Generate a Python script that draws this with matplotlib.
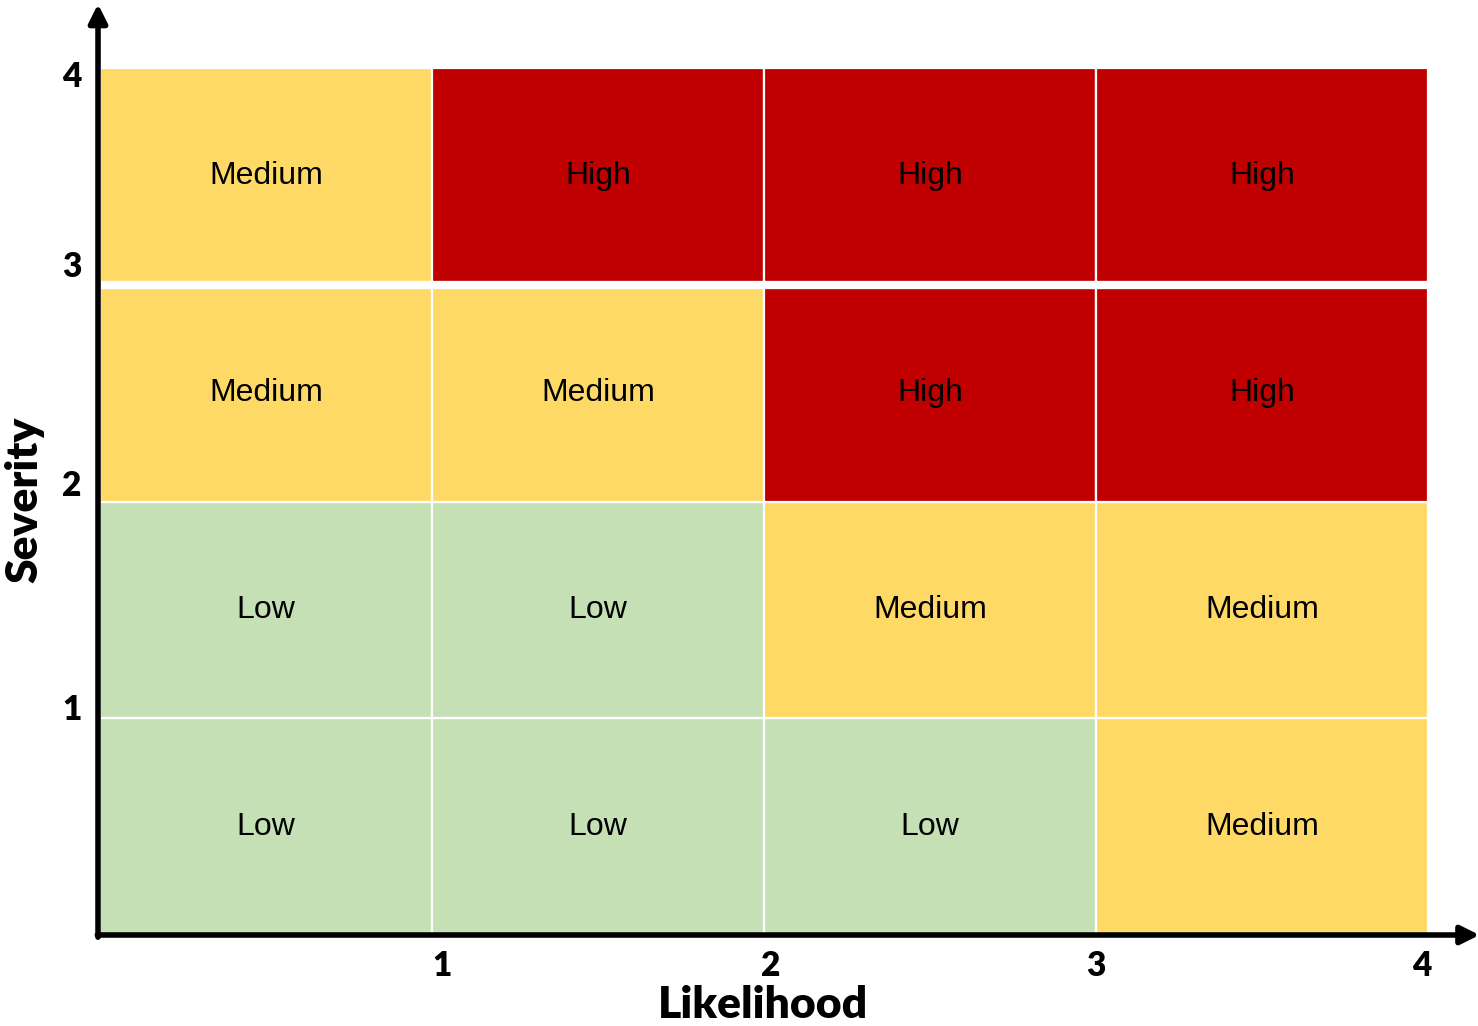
import matplotlib
matplotlib.use("Agg")
import matplotlib.pyplot as plt
from matplotlib.patches import Rectangle

# Data
likelihood_ticks = ["1", "2", "3", "4"]
severity_ticks = ["1", "2", "3", "4"]
xtick_pos = [1.03, 2.02, 3.0, 3.98]
ytick_pos = [1.04, 2.07, 3.08, 3.96]
# risk grid: rows from bottom (severity 1) to top (severity 4), columns likelihood 1..4
risk_levels = [
    ["Low", "Low", "Low", "Medium"],
    ["Low", "Low", "Medium", "Medium"],
    ["Medium", "Medium", "High", "High"],
    ["Medium", "High", "High", "High"],
]
level_colors = {"Low": "#C5E0B4", "Medium": "#FFD966", "High": "#C00000"}

W, H = 1478, 1026
fig = plt.figure(figsize=(W / 100, H / 100), dpi=100)
left, right, bottom, top = 100 / W, 1428 / W, 1 - 935 / H, 1 - 68 / H
ax = fig.add_axes([left, bottom, right - left, top - bottom])
ax.set_xlim(0, 4)
ax.set_ylim(0, 4)

for r, row in enumerate(risk_levels):
    for c, lvl in enumerate(row):
        ax.add_patch(Rectangle((c, r), 1, 1, facecolor=level_colors[lvl],
                               edgecolor="white", linewidth=1.6, zorder=1))
        ax.text(c + 0.5, r + 0.5, lvl, ha="center", va="center",
                fontsize=23, family="Liberation Sans", color="black", zorder=3)
# wider gap between the top two rows
ax.axhline(3, color="white", linewidth=6, zorder=2)

for s in ax.spines.values():
    s.set_visible(False)
ax.set_xticks([])
ax.set_yticks([])

# axis arrows
ax.annotate("", xy=(4.155, 0), xytext=(-0.008, 0), xycoords="data",
            arrowprops=dict(arrowstyle="-|>,head_length=1.1,head_width=0.55",
                            lw=4, color="black", shrinkA=0, shrinkB=0),
            annotation_clip=False, zorder=5)
ax.annotate("", xy=(-0.006, 4.295), xytext=(-0.006, -0.01), xycoords="data",
            arrowprops=dict(arrowstyle="-|>,head_length=1.1,head_width=0.55",
                            lw=4, color="black", shrinkA=0, shrinkB=0),
            annotation_clip=False, zorder=5)

# tick labels
for p, t in zip(xtick_pos, likelihood_ticks):
    ax.text(p, -0.07, t, ha="center", va="top", fontsize=24,
            family="Lato", fontweight="heavy", transform=ax.transData, clip_on=False)
for p, t in zip(ytick_pos, severity_ticks):
    ax.text(-0.055, p, t, ha="right", va="center", fontsize=24,
            family="Lato", fontweight="heavy", transform=ax.transData, clip_on=False)

fig.text(763 / W, 1 - 1005 / H, "Likelihood", ha="center", va="center",
         fontsize=32, family="Lato", fontweight="heavy")
fig.text(24 / W, 1 - 500 / H, "Severity", ha="center", va="center",
         fontsize=32, family="Lato", fontweight="heavy", rotation=90)

fig.savefig("out.png", dpi=100, facecolor="white")
